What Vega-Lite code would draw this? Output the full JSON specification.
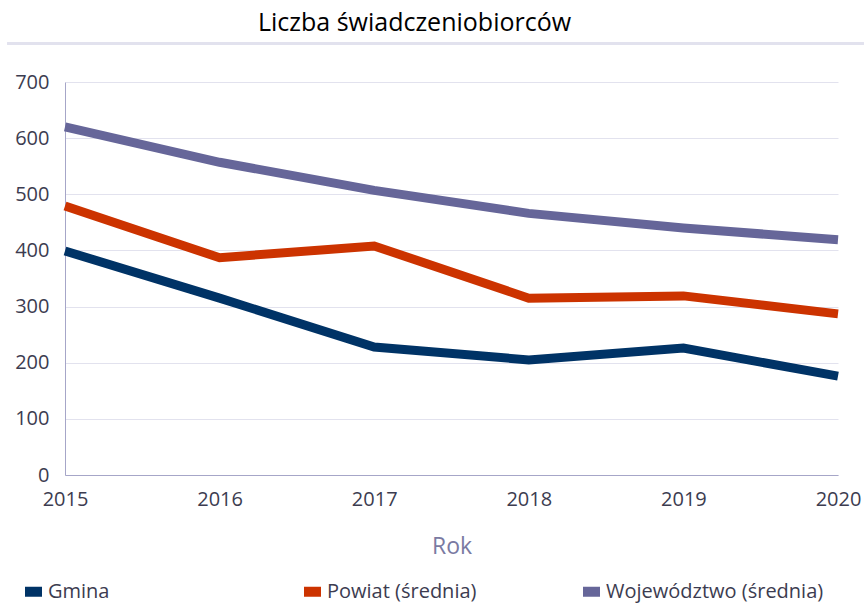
{
  "$schema": "https://vega.github.io/schema/vega-lite/v6.json",
  "autosize": "none",
  "width": 773,
  "height": 393,
  "padding": {"left": 65, "top": 82, "right": 26, "bottom": 130},
  "background": "white",
  "title": {
    "text": "Liczba świadczeniobiorców",
    "anchor": "middle",
    "frame": "group",
    "dx": -37,
    "offset": 6,
    "fontSize": 25,
    "fontWeight": "normal",
    "font": "Open Sans",
    "color": "#000000"
  },
  "config": {
    "view": {"stroke": null},
    "font": "Open Sans"
  },
  "data": {
    "values": [
      {"Rok": 2015, "Seria": "Gmina", "Wartosc": 399},
      {"Rok": 2016, "Seria": "Gmina", "Wartosc": 315},
      {"Rok": 2017, "Seria": "Gmina", "Wartosc": 228},
      {"Rok": 2018, "Seria": "Gmina", "Wartosc": 205},
      {"Rok": 2019, "Seria": "Gmina", "Wartosc": 226},
      {"Rok": 2020, "Seria": "Gmina", "Wartosc": 176},
      {"Rok": 2015, "Seria": "Powiat (średnia)", "Wartosc": 479},
      {"Rok": 2016, "Seria": "Powiat (średnia)", "Wartosc": 387},
      {"Rok": 2017, "Seria": "Powiat (średnia)", "Wartosc": 408},
      {"Rok": 2018, "Seria": "Powiat (średnia)", "Wartosc": 315},
      {"Rok": 2019, "Seria": "Powiat (średnia)", "Wartosc": 319},
      {"Rok": 2020, "Seria": "Powiat (średnia)", "Wartosc": 287},
      {"Rok": 2015, "Seria": "Województwo (średnia)", "Wartosc": 620},
      {"Rok": 2016, "Seria": "Województwo (średnia)", "Wartosc": 557},
      {"Rok": 2017, "Seria": "Województwo (średnia)", "Wartosc": 507},
      {"Rok": 2018, "Seria": "Województwo (średnia)", "Wartosc": 466},
      {"Rok": 2019, "Seria": "Województwo (średnia)", "Wartosc": 440},
      {"Rok": 2020, "Seria": "Województwo (średnia)", "Wartosc": 419}
    ]
  },
  "layer": [
    {
      "mark": {"type": "rule", "color": "#e2e2ee", "strokeWidth": 2, "clip": false},
      "encoding": {
        "x": {"datum": 2014.625, "type": "quantitative"},
        "x2": {"datum": 2020.168},
        "y": {"datum": 768.6, "type": "quantitative"}
      }
    },
    {
      "mark": {"type": "line", "strokeWidth": 9, "strokeJoin": "miter", "strokeCap": "butt"},
      "encoding": {
        "x": {
          "field": "Rok",
          "type": "quantitative",
          "scale": {"domain": [2015, 2020], "nice": false, "zero": false},
          "axis": {
            "title": "Rok",
            "values": [2015, 2016, 2017, 2018, 2019, 2020],
            "format": "d",
            "grid": false,
            "ticks": false,
            "domainColor": "#a6a6c8",
            "domainWidth": 1,
            "labelFontSize": 20,
            "labelColor": "#3c3c50",
            "labelPadding": 14,
            "labelFlush": false,
            "titleFontSize": 23,
            "titleFontWeight": "normal",
            "titleColor": "#7a7aa2",
            "titlePadding": 26
          }
        },
        "y": {
          "field": "Wartosc",
          "type": "quantitative",
          "scale": {"domain": [0, 700], "nice": false},
          "axis": {
            "title": null,
            "values": [0, 100, 200, 300, 400, 500, 600, 700],
            "grid": true,
            "gridColor": "#e2e2ee",
            "gridWidth": 1,
            "ticks": false,
            "domainColor": "#a6a6c8",
            "domainWidth": 1,
            "labelFontSize": 20,
            "labelColor": "#3c3c50",
            "labelPadding": 16
          }
        },
        "color": {
          "field": "Seria",
          "type": "nominal",
          "scale": {
            "domain": ["Gmina", "Powiat (średnia)", "Województwo (średnia)"],
            "range": ["#003366", "#cc3300", "#666699"]
          },
          "legend": {
            "title": null,
            "orient": "none",
            "legendX": -45,
            "legendY": 496,
            "direction": "horizontal",
            "columns": 3,
            "gridAlign": "all",
            "columnPadding": 18,
            "symbolType": "M-1,0H1",
            "symbolSize": 289,
            "symbolStrokeWidth": 10,
            "labelFontSize": 20,
            "labelColor": "#3c3c50",
            "labelOffset": 1,
            "labelLimit": 400
          }
        }
      }
    }
  ]
}
